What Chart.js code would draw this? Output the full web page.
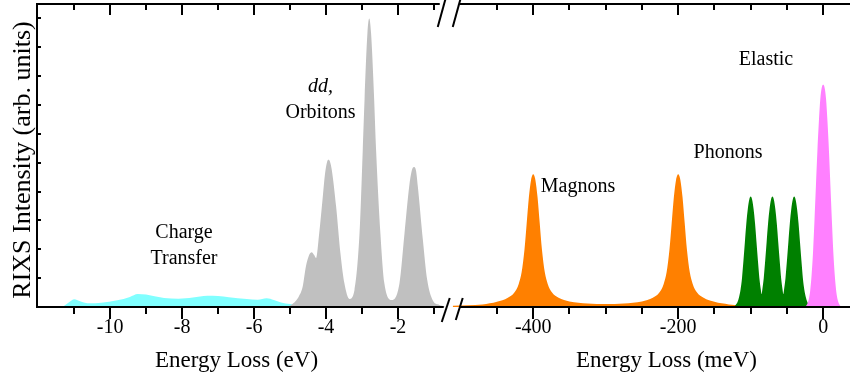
<!DOCTYPE html>
<html>
<head>
<meta charset="utf-8">
<title>RIXS spectrum</title>
<script src="https://cdn.jsdelivr.net/npm/chart.js@4.4.1/dist/chart.umd.min.js"></script>
<style>
  html, body { margin: 0; padding: 0; background: #fff; }
  #wrap { width: 850px; height: 375px; position: relative; overflow: hidden; }
</style>
</head>
<body>
<div id="wrap"><canvas id="rixsChart" width="850" height="375"></canvas></div>
<script>
/* RIXS spectrum with a broken energy axis (eV | meV) */

// ─── Data ───────────────────────────────────────────────────
// Left panel, energy loss in eV
const ctEnergy    = [-11.4, -11.3, -11.15, -10.99, -10.85, -10.7, -10.57, -10.25, -9.8, -9.45, -9.23, -9.0, -8.8, -8.5, -8.1, -7.7, -7.3, -7.0, -6.7, -6.2, -5.9, -5.65, -5.45, -5.25, -5.0, -4.85];
const ctIntensity = [0, 0.003, 0.016, 0.027, 0.021, 0.015, 0.013, 0.015, 0.023, 0.035, 0.045, 0.043, 0.038, 0.031, 0.029, 0.033, 0.039, 0.038, 0.034, 0.028, 0.025, 0.030, 0.024, 0.016, 0.010, 0.006];

const ddEnergy    = [-5.05, -4.97, -4.85, -4.75, -4.65, -4.56, -4.47, -4.40, -4.33, -4.28, -4.19, -4.09, -4.03, -3.97, -3.93, -3.89, -3.84, -3.72, -3.60, -3.49, -3.35, -3.21, -3.07, -2.98, -2.93, -2.85, -2.80, -2.75, -2.67, -2.61, -2.49, -2.38, -2.17, -1.96, -1.82, -1.69, -1.62, -1.56, -1.50, -1.45, -1.31, -1.19, -1.04, -0.85, -0.7];
const ddIntensity = [0, 0.007, 0.02, 0.038, 0.07, 0.14, 0.18, 0.19, 0.18, 0.17, 0.256, 0.383, 0.46, 0.503, 0.51, 0.503, 0.475, 0.348, 0.186, 0.082, 0.028, 0.059, 0.256, 0.545, 0.72, 0.95, 1.0, 0.95, 0.74, 0.545, 0.256, 0.082, 0.024, 0.082, 0.256, 0.418, 0.472, 0.485, 0.472, 0.418, 0.233, 0.094, 0.024, 0.007, 0.002];

// Right panel, energy loss in meV
const magnonEnergy    = [-511, -490, -470, -450, -435, -426, -420, -416, -412, -409, -406, -403, -401.5, -400, -398.5, -397, -394, -391, -388, -384, -380, -374, -365, -350, -325, -300, -275, -250, -235, -226, -220, -216, -212, -209, -206, -203, -201.5, -200, -198.5, -197, -194, -191, -188, -184, -180, -174, -165, -150, -130, -115, -100];
const magnonIntensity = [0.004, 0.006, 0.009, 0.018, 0.032, 0.05, 0.08, 0.12, 0.2, 0.29, 0.38, 0.44, 0.455, 0.46, 0.455, 0.44, 0.38, 0.29, 0.2, 0.12, 0.08, 0.05, 0.032, 0.019, 0.012, 0.010, 0.012, 0.019, 0.032, 0.05, 0.08, 0.12, 0.2, 0.29, 0.38, 0.44, 0.455, 0.46, 0.455, 0.44, 0.38, 0.29, 0.2, 0.12, 0.08, 0.05, 0.032, 0.018, 0.009, 0.006, 0.004];

const phononEnergy    = [-125, -121, -118, -116, -114, -112, -110, -108, -106, -104, -102, -100, -98, -96, -94, -92, -90, -88, -86, -85, -84, -82, -80, -78, -76, -74, -72, -70, -68, -66, -64, -62, -60, -58, -56, -55, -54, -52, -50, -48, -46, -44, -42, -40, -38, -36, -34, -32, -30, -28, -26, -24, -22, -19, -15];
const phononIntensity = [0, 0.006, 0.018, 0.035, 0.06, 0.10, 0.16, 0.225, 0.29, 0.34, 0.372, 0.383, 0.372, 0.34, 0.29, 0.225, 0.16, 0.10, 0.06, 0.045, 0.06, 0.10, 0.16, 0.225, 0.29, 0.34, 0.372, 0.383, 0.372, 0.34, 0.29, 0.225, 0.16, 0.10, 0.06, 0.045, 0.06, 0.10, 0.16, 0.225, 0.29, 0.34, 0.372, 0.383, 0.372, 0.34, 0.29, 0.225, 0.16, 0.10, 0.06, 0.035, 0.018, 0.006, 0];

const elasticEnergy    = [-25, -22, -20, -18, -16, -14, -12, -10, -8, -6, -4, -2, 0, 2, 4, 6, 8, 10, 12, 14, 16, 18, 20, 22, 25];
const elasticIntensity = [0, 0.01, 0.025, 0.055, 0.11, 0.19, 0.30, 0.42, 0.54, 0.64, 0.72, 0.76, 0.77, 0.76, 0.72, 0.64, 0.54, 0.42, 0.30, 0.19, 0.11, 0.055, 0.025, 0.01, 0];

// Ticks on the two energy axes and on the intensity axis
const evTicks   = [-11, -10, -9, -8, -7, -6, -5, -4, -3, -2, -1];
const evLabels  = [-10, -8, -6, -4, -2];
const mevTicks  = [-450, -400, -350, -300, -250, -200, -150, -100, -50, 0];
const mevLabels = [-400, -200, 0];
const yTicks    = [0.1, 0.2, 0.3, 0.4, 0.5, 0.6, 0.7, 0.8, 0.9, 1.0];

// ─── Style ──────────────────────────────────────────────────
const FONT   = '"Liberation Serif", "Times New Roman", serif';
const CYAN   = '#80ffff';
const GREY   = '#c0c0c0';
const ORANGE = '#ff8000';
const GREEN  = '#008000';
const PINK   = '#ff80ff';

const toPoints = (xs, ys) => xs.map((x, i) => ({ x, y: ys[i] }));

const series = (data, color, axis, order) => ({
  data,
  xAxisID: axis,
  yAxisID: 'y',
  backgroundColor: color,
  borderColor: color,
  borderWidth: 0,
  pointRadius: 0,
  fill: 'origin',
  cubicInterpolationMode: 'monotone',
  order
});

// ─── Frame, ticks, break marks and labels ───────────────────
const decor = {
  id: 'decor',
  afterDraw(chart) {
    const { ctx, chartArea: a, scales } = chart;
    const xl = scales.xl, xr = scales.xr, y = scales.y;
    const line = (x1, y1, x2, y2) => {
      ctx.beginPath(); ctx.moveTo(x1, y1); ctx.lineTo(x2, y2); ctx.stroke();
    };
    ctx.save();
    ctx.strokeStyle = '#000';
    ctx.lineWidth = 2;

    // axis lines, interrupted at the break
    const bx = xl.right;
    line(a.left, a.top, bx - 13, a.top);
    line(bx + 7, a.top, a.right, a.top);
    line(a.left, a.bottom, bx - 9, a.bottom);
    line(bx + 7, a.bottom, a.right, a.bottom);
    line(a.left, a.top - 1, a.left, a.bottom + 1);

    // x ticks: inward on top, outward at the bottom
    const drawTicks = (scale, labels) => {
      scale.ticks.forEach(t => {
        const px = Math.round(scale.getPixelForValue(t.value));
        const major = labels.includes(t.value);
        line(px, a.top, px, a.top + (major ? 11 : 6));
        line(px, a.bottom, px, a.bottom + (major ? 12 : 7));
      });
    };
    drawTicks(xl, evLabels);
    drawTicks(xr, mevLabels);

    // y ticks, short and inward
    yTicks.forEach(v => {
      const py = Math.round(y.getPixelForValue(v));
      line(a.left, py, a.left + 4, py);
    });

    // break marks
    line(bx - 7, a.top - 6, bx - 15, a.top + 23);
    line(bx + 8, a.top - 6, bx, a.top + 23);
    line(bx - 3, a.bottom - 9, bx - 11, a.bottom + 15);
    line(bx + 10, a.bottom - 9, bx + 3, a.bottom + 13);

    // axis titles
    ctx.fillStyle = '#000';
    ctx.textAlign = 'center';
    ctx.textBaseline = 'alphabetic';
    ctx.font = `23px ${FONT}`;
    ctx.fillText('Energy Loss (eV)', 236.5, 366.5);
    ctx.fillText('Energy Loss (meV)', 666.5, 366.5);

    ctx.save();
    ctx.translate(30, 160);
    ctx.rotate(-Math.PI / 2);
    ctx.font = `26px ${FONT}`;
    ctx.fillText('RIXS Intensity (arb. units)', 0, 0);
    ctx.restore();

    // peak annotations
    ctx.font = `italic 20px ${FONT}`;
    ctx.fillText('dd,', 320.5, 92);
    ctx.font = `20px ${FONT}`;
    ctx.fillText('Orbitons', 320.5, 117.5);
    ctx.fillText('Charge', 184, 237.5);
    ctx.fillText('Transfer', 184, 263.5);
    ctx.fillText('Magnons', 578, 192);
    ctx.fillText('Phonons', 728, 158);
    ctx.fillText('Elastic', 766, 65);
    ctx.restore();
  }
};

// ─── Axis helpers ───────────────────────────────────────────
const energyAxis = (min, max, weight, tickValues, labels) => ({
  type: 'linear',
  position: 'bottom',
  stack: 'energy',
  stackWeight: weight,
  min, max,
  afterBuildTicks: scale => { scale.ticks = tickValues.map(v => ({ value: v })); },
  border: { display: false },
  grid: { drawOnChartArea: false, tickLength: 11, tickColor: 'rgba(0,0,0,0)' },
  ticks: {
    autoSkip: false,
    minRotation: 0,
    maxRotation: 0,
    padding: 0,
    color: '#000',
    font: { family: FONT, size: 20, lineHeight: 1 },
    callback: v => labels.includes(v) ? String(v) : ''
  }
});

new Chart(document.getElementById('rixsChart'), {
  type: 'line',
  data: {
    datasets: [
      series(toPoints(ctEnergy, ctIntensity), CYAN, 'xl', 2),
      series(toPoints(ddEnergy, ddIntensity), GREY, 'xl', 1),
      series(toPoints(magnonEnergy, magnonIntensity), ORANGE, 'xr', 3),
      series(toPoints(phononEnergy, phononIntensity), GREEN, 'xr', 2),
      series(toPoints(elasticEnergy, elasticIntensity), PINK, 'xr', 1)
    ]
  },
  options: {
    responsive: false,
    animation: false,
    layout: { padding: { left: 37, right: 0, top: 4, bottom: 37 } },
    plugins: { legend: { display: false }, tooltip: { enabled: false } },
    scales: {
      xl: energyAxis(-12.03, -0.48, 415.8, evTicks, evLabels),
      xr: energyAxis(-511, 37, 397.3, mevTicks, mevLabels),
      y: { type: 'linear', display: false, min: 0, max: 1.05 }
    }
  },
  plugins: [decor]
});
</script>
</body>
</html>
